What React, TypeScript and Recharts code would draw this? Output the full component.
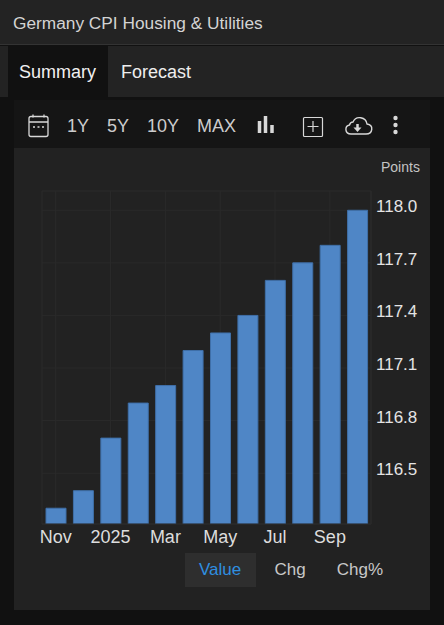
import { BarChart, Bar, XAxis, YAxis, CartesianGrid } from "recharts";

const months = ["Nov", "Dec", "2025", "Feb", "Mar", "Apr", "May", "Jun", "Jul", "Aug", "Sep", "Oct"];
const values = [116.3, 116.4, 116.7, 116.9, 117.0, 117.2, 117.3, 117.4, 117.6, 117.7, 117.8, 118.0];
const yTicks = [116.5, 116.8, 117.1, 117.4, 117.7, 118.0];
const ranges = ["1Y", "5Y", "10Y", "MAX"];
const rangeLeft = [67, 107, 147, 197];
const modes = ["Value", "Chg", "Chg%"];
const modeCenter = [220, 290, 360];

const data = months.map((month, i) => ({ month, value: values[i] }));
const FONT = '"Liberation Sans", Arial, sans-serif';

const abs = (left: number, top: number, width: number, height: number, background?: string) => ({
  position: "absolute" as const,
  left,
  top,
  width,
  height,
  background,
});

const text = (left: number, top: number, size: number, color: string) => ({
  position: "absolute" as const,
  left,
  top,
  fontSize: size,
  lineHeight: "20px",
  color,
  whiteSpace: "nowrap" as const,
});

function Icons() {
  return (
    <svg style={abs(0, 100, 444, 50)} fill="none" stroke="#d8d8d8">
      {/* calendar */}
      <rect x="29" y="16.5" width="19" height="20" rx="2" strokeWidth="1.3" />
      <path d="M29 22h19M33 14.5v3M44 14.5v3" strokeWidth="1.3" />
      <path d="M33 27h2M37.5 27h2M42 27h2" strokeWidth="1.6" />
      {/* bar type */}
      <path d="M259.500 33V21M265.500 33V16M272 33v-8" strokeWidth="3.500" />
      {/* compare */}
      <rect x="303.5" y="17.5" width="19" height="19" rx="1" strokeWidth="1.2" />
      <path d="M313 21v11M307.500 26.500h11" strokeWidth="1.2" />
      {/* download */}
      <g transform="translate(-2 0)">
        <path
          d="M353 34h15c7 0 8-9 1-10-1-7-11-9-14-2-2 0-3 1-3.500 3-5 1-5 9 1.500 9z"
          strokeWidth="1.4"
        />
        <path d="M359.500 24v6" strokeWidth="2.500" />
        <path d="M355.500 27.500h8l-4 4.500z" fill="#d8d8d8" stroke="none" />
      </g>
      {/* more */}
      <g fill="#d8d8d8" stroke="none">
        <circle cx="395.500" cy="18" r="2.200" />
        <circle cx="395.500" cy="25" r="2.200" />
        <circle cx="395.500" cy="32" r="2.200" />
      </g>
    </svg>
  );
}

export default function App() {
  return (
    <div style={{ ...abs(0, 0, 444, 625, "#111111"), overflow: "hidden", fontFamily: FONT }}>
      <div style={abs(0, 0, 444, 44, "#232323")} />
      <div style={abs(0, 44, 444, 1, "#333333")} />
      <div style={abs(0, 46, 444, 51, "#232323")} />
      <div style={abs(8, 46, 100, 51, "#111111")} />
      <div style={text(13, 13, 17.3, "#d4d4d4")}>Germany CPI Housing &amp; Utilities</div>
      <div style={text(19, 62, 18, "#f0f0f0")}>Summary</div>
      <div style={text(121, 62, 18, "#eeeeee")}>Forecast</div>

      <div style={abs(14, 100, 416, 48, "#151515")} />
      <div style={abs(14, 148, 416, 462, "#222222")} />
      {ranges.map((r, i) => (
        <div key={r} style={text(rangeLeft[i], 116, 18, "#cccccc")}>
          {r}
        </div>
      ))}
      <Icons />

      <div style={abs(0, 150, 444, 400)}>
        <BarChart
          width={444}
          height={400}
          data={data}
          barCategoryGap={0}
          margin={{ top: 41, right: 0, bottom: 0, left: 42 }}
        >
          <CartesianGrid stroke="#2a2a2a" />
          <XAxis
            dataKey="month"
            interval={1}
            height={26}
            axisLine={{ stroke: "#2a2a2a" }}
            tickLine={false}
            tickSize={0}
            tickMargin={6}
            tick={{ fill: "#dddddd", fontSize: 18, fontFamily: FONT }}
          />
          <YAxis
            orientation="right"
            width={73}
            domain={[116.21, 118.11]}
            ticks={yTicks}
            allowDataOverflow
            axisLine={{ stroke: "#2a2a2a" }}
            tickLine={false}
            tickSize={0}
            tickMargin={5}
            tickFormatter={(v: number) => v.toFixed(1)}
            tick={{ fill: "#e4e4e4", fontSize: 17, fontFamily: FONT, dy: -4 }}
          />
          <Bar
            dataKey="value"
            fill="#4f86c6"
            stroke="#3f6fa8"
            strokeWidth={1}
            barSize={20}
            isAnimationActive={false}
          />
        </BarChart>
      </div>
      <div style={text(381, 157, 14, "#c4c4c4")}>Points</div>

      <div style={abs(185, 553, 71, 34, "#2e2e2e")} />
      {modes.map((m, i) => (
        <div
          key={m}
          style={{
            ...text(modeCenter[i] - 40, 560, 17, i === 0 ? "#2f8fe0" : "#c8c8c8"),
            width: 80,
            textAlign: "center",
          }}
        >
          {m}
        </div>
      ))}
    </div>
  );
}
